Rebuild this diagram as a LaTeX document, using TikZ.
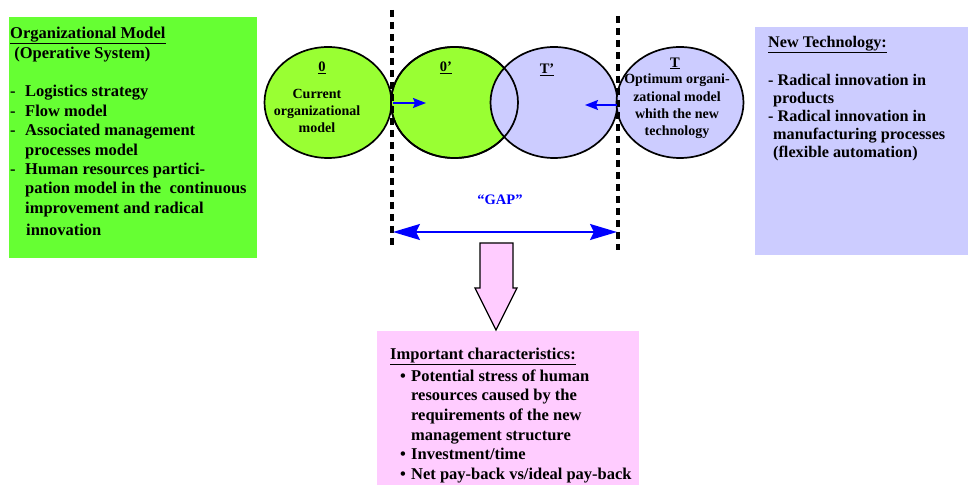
\documentclass[tikz,border=0pt]{standalone}
\usepackage{fontspec}
\setmainfont{Liberation Serif}
\usetikzlibrary{arrows.meta,shapes.geometric}

\definecolor{boxgreen}{HTML}{66FF33}
\definecolor{ovalgreen}{HTML}{99FF33}
\definecolor{lavender}{HTML}{CCCCFF}
\definecolor{pinkbox}{HTML}{FFCCFF}
\definecolor{gapblue}{HTML}{0000FF}

\tikzset{
  bigtext/.style={font=\bfseries\fontsize{16.5}{19.4}\selectfont, align=left,
    inner sep=0pt, anchor=north west},
  ovaltext/.style={font=\bfseries\fontsize{14}{17.4}\selectfont, align=center,
    inner sep=0pt},
  ovallabel/.style={font=\bfseries\fontsize{14.5}{17}\selectfont, inner sep=0pt},
  oval/.style={ellipse, draw=black, line width=1.7pt, inner sep=0pt,
    minimum width=127pt, minimum height=111pt},
  ovalline/.style={ellipse, draw=black, fill=none, line width=1.7pt, inner sep=0pt,
    minimum width=127pt, minimum height=111pt},
  border/.style={line width=4.5pt, dash pattern=on 7pt off 5pt},
  shift arrow/.style={draw=gapblue, line width=1.6pt,
    -{Stealth[length=13pt, width=10pt, inset=2pt]}},
  gap arrow/.style={draw=gapblue, line width=2pt,
    {Stealth[length=27pt, width=16pt, inset=4pt]}-{Stealth[length=27pt, width=16pt, inset=4pt]}},
  down arrow/.style={draw=black, line width=1.3pt, fill=pinkbox, line join=miter},
}

\begin{document}
\begin{tikzpicture}[x=1pt, y=-1pt]
  \useasboundingbox (0,0) rectangle (969,486);

  % side panels and the result panel
  \fill[boxgreen] (9,17) rectangle (257,258);
  \fill[lavender] (755,27) rectangle (968,255);
  \fill[pinkbox] (377,331) rectangle (639,485);

  % left panel text
  \node[bigtext] (orgtext) at (10,27) {%
    \underline{Organizational Model}\\
    \ (Operative System)\\[19.4pt]
    \makebox[15pt][l]{-}Logistics strategy\\
    \makebox[15pt][l]{-}Flow model\\
    \makebox[15pt][l]{-}Associated management\\
    \hspace*{15pt}processes model\\
    \makebox[15pt][l]{-}Human resources partici-\\
    \hspace*{15pt}pation model in the\ \ continuous\\
    \hspace*{15pt}improvement and radical\\[3pt]
    \hspace*{16pt}innovation};

  % right panel text
  \node[bigtext, font=\bfseries\fontsize{16.2}{18}\selectfont] (techtext) at (768,36) {%
    \underline{New Technology:}\\[20pt]
    - Radical innovation in\\
    \hspace*{5pt}products\\
    - Radical innovation in\\
    \hspace*{5pt}manufacturing processes\\
    \hspace*{5pt}(flexible automation)};

  % bottom panel text
  \node[bigtext, font=\bfseries\fontsize{16.5}{19.6}\selectfont] (chartext) at (390,347.5) {%
    \underline{Important characteristics:}\\[2.5pt]
    \hspace*{10pt}\makebox[11pt][l]{\textbullet}Potential stress of human\\
    \hspace*{21pt}resources caused by the\\
    \hspace*{21pt}requirements of the new\\
    \hspace*{21pt}management structure\\
    \hspace*{10pt}\makebox[11pt][l]{\textbullet}Investment/time\\
    \hspace*{10pt}\makebox[11pt][l]{\textbullet}Net pay-back vs/ideal pay-back};

  % the four organizational states
  \node[oval, fill=ovalgreen] (cur) at (328,102.5) {};
  \node[oval, fill=ovalgreen] (curp) at (454.5,102.5) {};
  \node[oval, fill=lavender] (techp) at (554,102.5) {};
  \node[ovalline] (curpline) at (454.5,102.5) {};
  \node[oval, fill=lavender] (tech) at (680,102.5) {};

  \node[ovallabel] (lcur) at (322,68) {\underline{0}};
  \node[ovallabel] (lcurp) at (446,68) {\underline{0’}};
  \node[ovallabel] (ltechp) at (547,70) {\underline{T’}};
  \node[ovallabel] (ltech) at (675,63.5) {\underline{T}};

  \node[ovaltext] (curtext) at (317,111) {Current\\organizational\\model};
  \node[ovaltext] (techtext2) at (677,106.5) {Optimum organi-\\zational model\\whith the new\\technology};

  % limits of the gap
  \coordinate (lefttop) at (392,10);
  \coordinate (leftbot) at (392,246);
  \coordinate (righttop) at (618,16);
  \coordinate (rightbot) at (618,250);
  \draw[border] (lefttop) -- (leftbot);
  \draw[border] (righttop) -- (rightbot);

  % movement of both models towards each other
  \coordinate (fromcur) at (393,103);
  \coordinate (tocur) at (426,103);
  \coordinate (fromtech) at (617,105);
  \coordinate (totech) at (585,105);
  \draw[shift arrow] (fromcur) -- (tocur);
  \draw[shift arrow] (fromtech) -- (totech);

  % the gap
  \node[font=\bfseries\fontsize{14.5}{17}\selectfont, text=gapblue, inner sep=0pt]
    (gaplabel) at (500,200) {“GAP”};
  \coordinate (gapstart) at (393,232);
  \coordinate (gapend) at (617,232);
  \draw[gap arrow] (gapstart) -- (gapend);

  % consequence arrow
  \coordinate (arrowtip) at (496,330);
  \draw[down arrow] (480,243) -- (513,243) -- (513,288) -- (517,288)
    -- (arrowtip) -- (475,288) -- (480,288) -- cycle;
\end{tikzpicture}
\end{document}
